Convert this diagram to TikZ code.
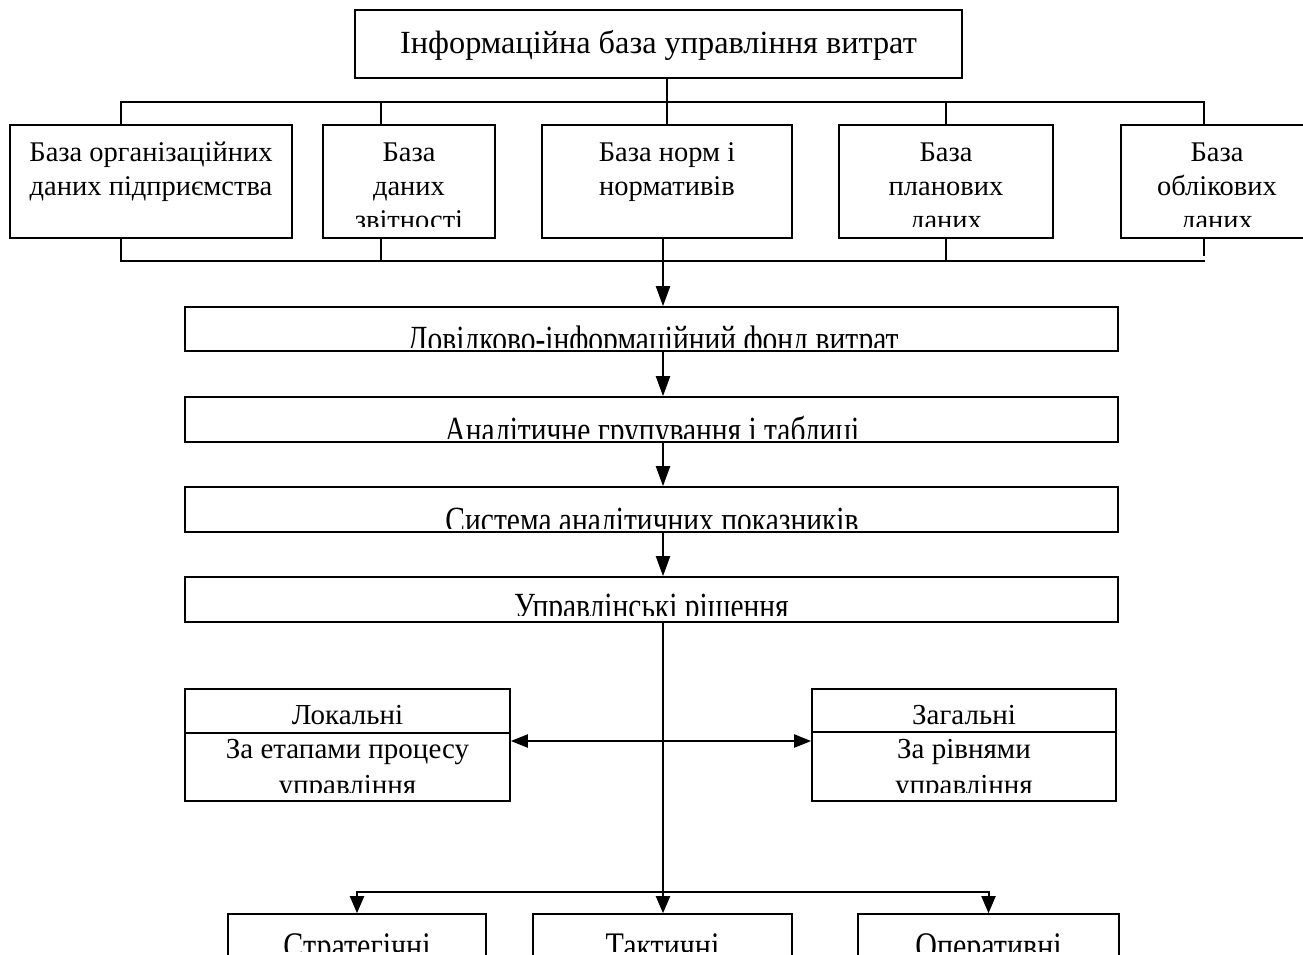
\documentclass[tikz,border=0pt]{standalone}
\usepackage{fontspec}
\usepackage{graphicx}
\setmainfont{Liberation Serif}
\usetikzlibrary{arrows.meta}
\begin{document}
\begin{tikzpicture}[x=1pt,y=-1pt,
  box/.style={draw, line width=1.6pt, inner sep=0pt},
  txt/.style={font=\fontsize{28.5}{34}\selectfont, align=center, inner sep=0pt},
  txtm/.style={font=\fontsize{29.5}{33}\selectfont, inner sep=0pt},
  txtb/.style={font=\fontsize{29}{36}\selectfont, align=center, inner sep=0pt},
  txtc/.style={font=\fontsize{30}{33}\selectfont, inner sep=0pt},
  ttl/.style={font=\fontsize{32.3}{40}\selectfont, inner sep=0pt},
  bus/.style={line width=1.4pt},
  arr/.style={line width=2pt, -{Triangle[length=20pt,width=14pt]}},
  sarr/.style={line width=2pt, -{Triangle[length=17pt,width=14pt]}},
  darr/.style={line width=2pt, {Triangle[length=17pt,width=13pt]}-{Triangle[length=17pt,width=13pt]}},
]
\useasboundingbox (0,0) rectangle (1303,955);
\clip (0,0) rectangle (1303,955);
\coordinate (ax) at (663,0);

% title
\node[box, minimum width=607pt, minimum height=68pt] (top) at (658.5,44) {};
\node[ttl, anchor=base] (toptext) at (658.5,54) {Інформаційна база управління витрат};

% row 1 boxes
\node[box, minimum width=282pt, minimum height=113pt] (b1) at (151,181.5) {};
\node[box, minimum width=172pt, minimum height=113pt] (b2) at (409,181.5) {};
\node[box, minimum width=250pt, minimum height=113pt] (b3) at (667,181.5) {};
\node[box, minimum width=214pt, minimum height=113pt] (b4) at (946,181.5) {};
\node[box, minimum width=192pt, minimum height=113pt] (b5) at (1217,181.5) {};

\begin{scope}
\clip (11,126) rectangle (291,226);
\node[txt, anchor=north] (b1t) at (151,142) {\rule{0pt}{19.5pt}База організаційних\\даних підприємства};
\end{scope}
\begin{scope}
\clip (324,126) rectangle (494,226);
\node[txt, anchor=north] (b2t) at (409,142) {\rule{0pt}{19.5pt}База\\даних\\звітності};
\end{scope}
\begin{scope}
\clip (543,126) rectangle (791,226);
\node[txt, anchor=north] (b3t) at (667,142) {\rule{0pt}{19.5pt}База норм і\\нормативів};
\end{scope}
\begin{scope}
\clip (840,126) rectangle (1052,226);
\node[txt, anchor=north] (b4t) at (946,142) {\rule{0pt}{19.5pt}База\\планових\\даних};
\end{scope}
\begin{scope}
\clip (1122,126) rectangle (1312,226);
\node[txt, anchor=north] (b5t) at (1217,142) {\rule{0pt}{19.5pt}База\\облікових\\даних};
\end{scope}

% top bus
\draw[bus] (top.south -| b3.north) -- (b3.north);
\draw[bus] (b1.north -| 121,0) -- (121,102) -- (1204,102) -- (b5.north -| 1204,0);
\draw[bus] (381,102) -- (b2.north -| 381,0);
\draw[bus] (946,102) -- (b4.north -| 946,0);
% bottom bus
\draw[bus] (b1.south -| 121,0) -- (121,261) -- (1205,261);
\draw[bus] (b2.south -| 381,0) -- (381,261);
\draw[bus] (b4.south -| 946,0) -- (946,261);
\draw[bus] (b5.south -| 1204,0) -- (1204,256);

% chain
\node[box, minimum width=933pt, minimum height=44pt] (f1) at (651.5,329) {};
\node[box, minimum width=933pt, minimum height=45pt] (f2) at (651.5,419.5) {};
\node[box, minimum width=933pt, minimum height=45pt] (f3) at (651.5,509.5) {};
\node[box, minimum width=933pt, minimum height=45pt] (f4) at (651.5,599.5) {};

\begin{scope}
\clip (186,308) rectangle (1117,347);
\node[txtm, anchor=base] (f1t) at (653,351) {\scalebox{1}[1.25]{Довідково-інформаційний фонд витрат}};
\end{scope}
\begin{scope}
\clip (186,398) rectangle (1117,438);
\node[txtm, anchor=base] (f2t) at (652,442) {\scalebox{1}[1.25]{Аналітичне групування і таблиці}};
\end{scope}
\begin{scope}
\clip (186,488) rectangle (1117,528);
\node[txtm, anchor=base] (f3t) at (652,532) {\scalebox{1}[1.25]{Система аналітичних показників}};
\end{scope}
\begin{scope}
\clip (186,578) rectangle (1117,615);
\node[txtm, anchor=base] (f4t) at (651.5,618) {\scalebox{1}[1.25]{Управлінські рішення}};
\end{scope}

\draw[arr] (b3.south -| ax) -- (f1.north -| ax);
\draw[arr] (f1.south -| ax) -- (f2.north -| ax);
\draw[arr] (f2.south -| ax) -- (f3.north -| ax);
\draw[arr] (f3.south -| ax) -- (f4.north -| ax);

% local / general
\node[box, minimum width=325pt, minimum height=112pt] (loc) at (347.5,745) {};
\node[box, minimum width=304pt, minimum height=112pt] (zag) at (964,745) {};
\draw[box] (loc.west |- 0,733) -- (loc.east |- 0,733);
\draw[box] (zag.west |- 0,732) -- (zag.east |- 0,732);
\node[txtb, anchor=base] (loct) at (347.5,724) {Локальні};
\node[txtb, anchor=base] (zagt) at (964,724) {Загальні};
\begin{scope}
\clip (186,734) rectangle (509,792);
\node[txtb, anchor=north] (locb) at (347.5,738) {\rule{0pt}{20pt}За етапами процесу\\управління};
\end{scope}
\begin{scope}
\clip (813,733) rectangle (1115,792);
\node[txtb, anchor=north] (zagb) at (964,738) {\rule{0pt}{20pt}За рівнями\\управління};
\end{scope}

% bottom row
\node[box, minimum width=258pt, minimum height=62pt] (s1) at (357,945) {};
\node[box, minimum width=259pt, minimum height=62pt] (s2) at (662.5,945) {};
\node[box, minimum width=261pt, minimum height=62pt] (s3) at (988.5,945) {};
\begin{scope}
\clip (229,915) rectangle (485,951);
\node[txtc, anchor=base] (s1t) at (357,958) {\scalebox{1}[1.25]{Стратегічні}};
\end{scope}
\begin{scope}
\clip (534,915) rectangle (791,951);
\node[txtc, anchor=base] (s2t) at (662.5,958) {\scalebox{1}[1.25]{Тактичні}};
\end{scope}
\begin{scope}
\clip (859,915) rectangle (1118,951);
\node[txtc, anchor=base] (s3t) at (988.5,958) {\scalebox{1}[1.25]{Оперативні}};
\end{scope}

% decisions connectors
\coordinate (jn) at (663,892);
\draw[sarr] (f4.south -| ax) -- (s2.north -| ax);
\draw[sarr] (jn) -| (s1.north);
\draw[sarr] (jn) -| (s3.north);
\draw[darr] ([yshift=4pt]loc.east) -- ([yshift=4pt]zag.west);
\end{tikzpicture}
\end{document}
